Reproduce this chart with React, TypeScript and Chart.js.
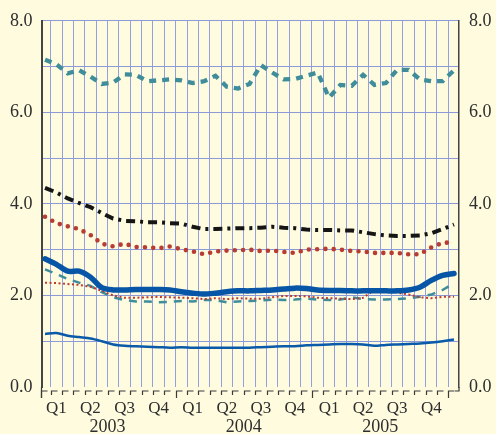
import React, { useEffect, useRef } from "react";
import { Chart, registerables } from "chart.js";

Chart.register(...registerables);

// Monthly observations, Jan 2003 .. Jan 2006
const months = [
  "2003-01","2003-02","2003-03","2003-04","2003-05","2003-06","2003-07","2003-08","2003-09","2003-10","2003-11","2003-12",
  "2004-01","2004-02","2004-03","2004-04","2004-05","2004-06","2004-07","2004-08","2004-09","2004-10","2004-11","2004-12",
  "2005-01","2005-02","2005-03","2005-04","2005-05","2005-06","2005-07","2005-08","2005-09","2005-10","2005-11","2005-12",
  "2006-01",
];
const quarterLabels = ["Q1", "Q2", "Q3", "Q4"];
const yearLabels = ["2003", "2004", "2005"];
const yTickLabels = [0, 2, 4, 6, 8];

const tealTop = [
  7.15, 7.05, 6.85, 6.92, 6.78, 6.62, 6.65, 6.83, 6.82, 6.68, 6.70, 6.72,
  6.70, 6.64, 6.68, 6.80, 6.56, 6.52, 6.62, 7.03, 6.87, 6.72, 6.73, 6.80,
  6.87, 6.32, 6.60, 6.58, 6.82, 6.60, 6.64, 6.93, 6.93, 6.72, 6.68, 6.68,
  6.92,
];
const blackDashDot = [
  4.35, 4.25, 4.12, 4.02, 3.93, 3.80, 3.68, 3.63, 3.62, 3.60, 3.60, 3.58,
  3.57, 3.50, 3.45, 3.45, 3.46, 3.47, 3.47, 3.48, 3.50, 3.48, 3.47, 3.44,
  3.43, 3.43, 3.42, 3.42, 3.38, 3.34, 3.31, 3.30, 3.30, 3.31, 3.36, 3.45,
  3.55,
];
const redDots = [
  3.72, 3.58, 3.51, 3.45, 3.32, 3.13, 3.07, 3.13, 3.06, 3.05, 3.03, 3.07,
  3.01, 2.96, 2.90, 2.96, 2.98, 2.99, 3.00, 2.97, 2.98, 2.95, 2.93, 3.00,
  3.01, 3.02, 3.00, 2.97, 2.96, 2.93, 2.93, 2.93, 2.90, 2.90, 3.05, 3.15,
  3.16,
];
const blueThick = [
  2.80, 2.68, 2.53, 2.53, 2.40, 2.17, 2.12, 2.12, 2.13, 2.13, 2.13, 2.12,
  2.08, 2.05, 2.03, 2.05, 2.08, 2.10, 2.10, 2.11, 2.12, 2.14, 2.16, 2.15,
  2.12, 2.11, 2.11, 2.10, 2.10, 2.10, 2.10, 2.10, 2.12, 2.18, 2.33, 2.44,
  2.48,
];
const tealLow = [
  2.57, 2.47, 2.36, 2.28, 2.21, 2.07, 1.96, 1.90, 1.87, 1.87, 1.85, 1.86,
  1.88, 1.87, 1.90, 1.90, 1.85, 1.87, 1.88, 1.89, 1.91, 1.90, 1.91, 1.93,
  1.91, 1.90, 1.91, 1.96, 1.92, 1.91, 1.91, 1.92, 1.94, 1.97, 2.02, 2.12,
  2.27,
];
const redFine = [
  2.28, 2.27, 2.25, 2.23, 2.19, 2.10, 2.00, 1.95, 1.95, 1.96, 1.97, 1.96,
  1.95, 1.94, 1.92, 1.94, 1.92, 1.94, 1.93, 1.93, 1.96, 1.99, 1.99, 1.98,
  1.95, 1.94, 1.93, 1.92, 1.95, 2.12, 2.13, 2.06, 2.02, 1.96, 1.94, 1.97,
  1.97,
];
const blueThin = [
  1.16, 1.18, 1.12, 1.09, 1.06, 1.00, 0.93, 0.90, 0.89, 0.88, 0.87, 0.86,
  0.87, 0.86, 0.86, 0.86, 0.86, 0.86, 0.86, 0.87, 0.88, 0.89, 0.89, 0.91,
  0.92, 0.93, 0.94, 0.94, 0.93, 0.90, 0.92, 0.93, 0.94, 0.95, 0.97, 1.00,
  1.04,
];

const BG = "#fefbde";
const GRID_V = "rgb(146,160,222)";
const GRID_H = "rgb(140,154,218)";
const TEXT = "#2e2e2e";
const FONT = '"Liberation Serif", "Times New Roman", serif';

// each monthly value sits mid-month on a month-index axis
const pts = (vals: number[]) => vals.map((v, i) => ({ x: i + 0.5, y: v }));

const decorPlugin = {
  id: "decor",
  beforeDraw(chart: any) {
    const ctx = chart.ctx;
    ctx.save();
    ctx.fillStyle = BG;
    ctx.fillRect(0, 0, chart.width, chart.height);
    ctx.restore();
  },
  afterDraw(chart: any) {
    const ctx = chart.ctx;
    const xs = chart.scales.x;
    const area = chart.chartArea;
    ctx.save();
    // bottom hooks
    ctx.strokeStyle = "#3a3a3a";
    ctx.lineWidth = 1.2;
    const hy = area.bottom + 4;
    for (let k = 0; k <= 36; k++) {
      const x = k === 0 ? area.left : Math.round(xs.getPixelForValue(k)) + 0.5;
      ctx.beginPath();
      ctx.moveTo(x, k % 12 === 0 ? hy + 7 : hy + 4);
      ctx.lineTo(x, hy);
      ctx.lineTo(x + 6, hy);
      ctx.stroke();
    }
    // right axis foot
    ctx.beginPath();
    ctx.moveTo(area.right - 4, hy);
    ctx.lineTo(area.right, hy);
    ctx.lineTo(area.right, area.bottom);
    ctx.stroke();
    // left axis foot
    ctx.beginPath();
    ctx.moveTo(area.left, area.bottom);
    ctx.lineTo(area.left, hy + 7);
    ctx.stroke();

    ctx.fillStyle = TEXT;
    ctx.textAlign = "center";
    ctx.textBaseline = "middle";
    ctx.font = `17px ${FONT}`;
    for (let q = 0; q < 12; q++) {
      const x = xs.getPixelForValue(q * 3 + 1.5);
      ctx.fillText(quarterLabels[q % 4], x, area.bottom + 22);
    }
    ctx.font = `18px ${FONT}`;
    yearLabels.forEach((label, yi) => {
      const x = xs.getPixelForValue(yi * 12 + 6);
      ctx.fillText(label, x, area.bottom + 40);
    });
    ctx.restore();
  },
};

export default function App() {
  const ref = useRef<HTMLCanvasElement>(null);

  useEffect(() => {
    document.body.style.margin = "0";
    document.body.style.background = BG;
    const canvas = ref.current!;
    const yTickCb = (v: any) => (yTickLabels.includes(Number(v)) ? Number(v).toFixed(1) : "");
    const chart = new Chart(canvas, {
      type: "line",
      data: {
        datasets: [
          {
            label: "blueThick",
            data: pts(blueThick),
            borderColor: "#0655a6",
            borderWidth: 5.5,
            pointRadius: 0,
            tension: 0.3,
            borderCapStyle: "round",
          },
          {
            label: "blueThin",
            data: pts(blueThin),
            borderColor: "#0a5aaa",
            borderWidth: 2.5,
            pointRadius: 0,
            tension: 0.3,
          },
          {
            label: "redFine",
            data: pts(redFine),
            borderColor: "#c0392f",
            borderWidth: 2,
            borderDash: [2, 2.5],
            pointRadius: 0,
            tension: 0,
          },
          {
            label: "tealLow",
            data: pts(tealLow),
            borderColor: "#3f8d9b",
            borderWidth: 2.5,
            borderDash: [8, 7],
            pointRadius: 0,
            tension: 0,
          },
          {
            label: "redDots",
            data: pts(redDots),
            borderColor: "#b83c33",
            borderWidth: 4.6,
            borderDash: [0, 8.3],
            borderCapStyle: "round",
            pointRadius: 0,
            tension: 0,
          },
          {
            label: "blackDashDot",
            data: pts(blackDashDot),
            borderColor: "#151515",
            borderWidth: 4,
            borderDash: [9, 5, 3, 5],
            pointRadius: 0,
            tension: 0,
          },
          {
            label: "tealTop",
            data: pts(tealTop),
            borderColor: "#3f8d9b",
            borderWidth: 4.3,
            borderDash: [7, 6],
            pointRadius: 0,
            tension: 0,
          },
        ],
      },
      options: {
        responsive: false,
        animation: false,
        devicePixelRatio: 1,
        layout: { padding: { top: 17, left: 0, right: 0, bottom: 0 } },
        plugins: { legend: { display: false }, tooltip: { enabled: false } },
        scales: {
          x: {
            type: "linear",
            min: 0.19,
            max: 36.94,
            afterBuildTicks: (s: any) => {
              s.ticks = months.slice(1).map((_, k) => ({ value: k + 1 }));
            },
            afterFit: (s: any) => {
              s.height = 47;
            },
            ticks: { display: false },
            grid: { color: GRID_V, lineWidth: 1, drawTicks: false },
            border: { display: false },
          },
          y: {
            position: "left",
            min: 0,
            max: 8,
            afterFit: (s: any) => {
              s.width = 41.5;
            },
            ticks: {
              stepSize: 1,
              callback: yTickCb,
              color: TEXT,
              padding: 9,
              font: { family: FONT, size: 18 },
            },
            grid: {
              color: (c: any) => (c.tick && c.tick.value === 0 ? "rgba(0,0,0,0)" : GRID_H),
              lineWidth: 1,
              drawTicks: false,
            },
            border: { display: true, color: "#444", width: 2 },
          },
          y2: {
            position: "right",
            min: 0,
            max: 8,
            afterFit: (s: any) => {
              s.width = 37;
            },
            ticks: {
              stepSize: 1,
              callback: yTickCb,
              color: TEXT,
              padding: 10,
              font: { family: FONT, size: 18 },
            },
            grid: { display: false, drawTicks: false },
            border: { display: true, color: "#444", width: 1.5 },
          },
        },
      },
      plugins: [decorPlugin],
    } as any);
    return () => chart.destroy();
  }, []);

  return (
    <div style={{ width: 496, height: 434, background: BG }}>
      <canvas ref={ref} width={496} height={434} style={{ display: "block" }} />
    </div>
  );
}
